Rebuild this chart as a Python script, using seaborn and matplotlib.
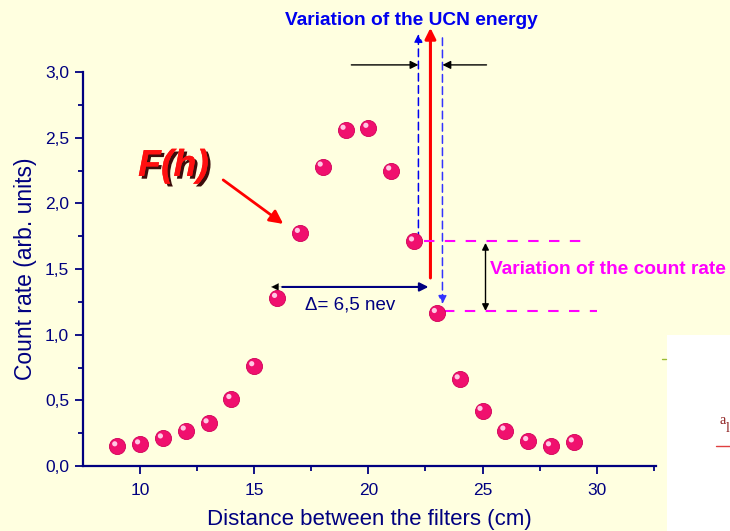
import matplotlib
matplotlib.use("Agg")
import matplotlib.pyplot as plt
import matplotlib.transforms as mtransforms
import matplotlib.patheffects as pe
import seaborn as sns
import pandas as pd

# ---- data ----
distance = [9, 10, 11, 12, 13, 14, 15, 16, 17, 18, 19, 20, 21, 22, 23, 24, 25, 26, 27, 28, 29]
count_rate = [0.15, 0.165, 0.21, 0.27, 0.325, 0.51, 0.76, 1.28, 1.775, 2.28, 2.56, 2.575,
              2.25, 1.71, 1.165, 0.66, 0.42, 0.27, 0.19, 0.15, 0.18]
x_ticks = [10, 15, 20, 25, 30]
y_ticks = [0.0, 0.5, 1.0, 1.5, 2.0, 2.5, 3.0]
y_tick_labels = ["0,0", "0,5", "1,0", "1,5", "2,0", "2,5", "3,0"]

df = pd.DataFrame({"distance": distance, "count": count_rate})

sns.set_style("ticks")
plt.rcParams['font.family'] = ['Liberation Sans', 'DejaVu Sans']

BG = "#FFFFE0"
NAVY = "#000080"

fig = plt.figure(figsize=(7.3, 5.31), dpi=100, facecolor=BG)
ax = fig.add_axes([83/730, 65/531, (656-83)/730, (466-72)/531])
ax.set_facecolor(BG)

sns.scatterplot(data=df, x="distance", y="count", ax=ax, s=135, color="#F0106E",
                edgecolor="#D00058", linewidth=0.6, zorder=5, clip_on=False, legend=False)
# highlight on each sphere
off = mtransforms.ScaledTranslation(-2.5/100, 2.5/100, fig.dpi_scale_trans)
ax.scatter(df["distance"], df["count"], s=14, color="#FFC8E4", edgecolor="none",
           transform=ax.transData + off, zorder=6, clip_on=False)

ax.set_xlim(7.5, 32.6)
ax.set_ylim(0, 3.0)
ax.set_xticks(x_ticks)
ax.set_xticks([12.5, 17.5, 22.5, 27.5, 32.5], minor=True)
ax.set_yticks(y_ticks)
ax.set_yticklabels(y_tick_labels)
ax.set_yticks([0.25, 0.75, 1.25, 1.75, 2.25, 2.75], minor=True)

for s in ["top", "right"]:
    ax.spines[s].set_visible(False)
for s in ["left", "bottom"]:
    ax.spines[s].set_color(NAVY)
    ax.spines[s].set_linewidth(1.6)
ax.tick_params(axis="both", which="major", direction="out", length=6, width=1.3,
               colors=NAVY, labelsize=12.5, labelcolor=NAVY)
ax.tick_params(axis="both", which="minor", direction="out", length=3.5, width=1.3, colors=NAVY)
ax.tick_params(axis="x", pad=6)
ax.tick_params(axis="y", pad=4)

ax.set_xlabel("Distance between the filters (cm)", fontsize=16, color=NAVY, labelpad=8)
ax.set_ylabel("Count rate (arb. units)", fontsize=16.5, color=NAVY, labelpad=6)

def px(x, y):
    return (10 + (x - 141) / 22.8, (466 - y) / 131.3)

# title annotation
ax.text(*px(412, 21), "Variation of the UCN energy", color="#0000EE", fontsize=13.8,
        fontweight="bold", ha="center", va="center", clip_on=False)

# red vertical arrow
ax.annotate("", xy=px(431, 28), xytext=px(431, 278), annotation_clip=False,
            arrowprops=dict(arrowstyle="-|>", color="red", lw=2.2, mutation_scale=16, shrinkA=0, shrinkB=0))
# blue dashed arrows
ax.annotate("", xy=px(419, 34), xytext=px(419, 240), annotation_clip=False,
            arrowprops=dict(arrowstyle="-|>", color="#0000EE", lw=1.1, ls=(0, (5, 3)),
                            mutation_scale=12, shrinkA=0, shrinkB=0))
ax.annotate("", xy=px(443, 304), xytext=px(443, 38), annotation_clip=False,
            arrowprops=dict(arrowstyle="-|>", color="#3333FF", lw=1.1, ls=(0, (5, 3)),
                            mutation_scale=12, shrinkA=0, shrinkB=0))
# black horizontal arrows
ax.annotate("", xy=px(419, 65), xytext=px(352, 65), annotation_clip=False,
            arrowprops=dict(arrowstyle="-|>", color="black", lw=1, mutation_scale=12, shrinkA=0, shrinkB=0))
ax.annotate("", xy=px(443, 65), xytext=px(487, 65), annotation_clip=False,
            arrowprops=dict(arrowstyle="-|>", color="black", lw=1, mutation_scale=12, shrinkA=0, shrinkB=0))

# magenta dashed lines
for (x0, x1, y) in [(425, 585, 241), (445, 597, 311)]:
    a, b = px(x0, y), px(x1, y)
    ax.plot([a[0], b[0]], [a[1], b[1]], color="#FF00FF", lw=1.5, ls=(0, (5, 5)),
            clip_on=False, zorder=3)
# black double arrow
ax.annotate("", xy=px(486, 243), xytext=px(486, 311), annotation_clip=False,
            arrowprops=dict(arrowstyle="<|-|>", color="black", lw=1, mutation_scale=10, shrinkA=0, shrinkB=0))
ax.text(*px(490, 270), "Variation of the count rate", color="#FF00FF", fontsize=13.8,
        fontweight="bold", ha="left", va="center", clip_on=False)

# navy arrow (delta)
ax.annotate("", xy=px(429, 287), xytext=px(283, 287), annotation_clip=False,
            arrowprops=dict(arrowstyle="-|>", color=NAVY, lw=1.5, mutation_scale=13, shrinkA=0, shrinkB=0))
ax.annotate("", xy=px(272, 287), xytext=px(285, 287), annotation_clip=False,
            arrowprops=dict(arrowstyle="-|>", color="black", lw=0.1, mutation_scale=13, shrinkA=0, shrinkB=0))
ax.text(*px(306, 305), "\u0394= 6,5 nev", color=NAVY, fontsize=13.5, ha="left", va="center",
        clip_on=False)

# F(h) label
ax.text(*px(139, 166), "F(h)", color="#FF1010", fontsize=27, fontweight="bold", fontstyle="italic",
        ha="left", va="center", clip_on=False,
        path_effects=[pe.withSimplePatchShadow(offset=(2, -2), shadow_rgbFace="#300000", alpha=0.95),
                      pe.Normal()])
ax.annotate("", xy=px(284, 224), xytext=px(224, 180), annotation_clip=False,
            arrowprops=dict(arrowstyle="-|>", color="red", lw=2, mutation_scale=20, shrinkA=0, shrinkB=0))

# white box fragment at bottom right
fig.patches.append(plt.Rectangle((667/730, 0), 63/730, (531-335)/531, transform=fig.transFigure,
                                 facecolor="white", edgecolor="none", zorder=0))
fig.add_artist(plt.Line2D([662/730, 666/730], [1-359/531, 1-359/531], color="#99BB33", lw=1))
fig.text(719/730, 1-421/531, "a", color="#8B1A1A", fontsize=10, family="Liberation Serif",
         ha="left", va="center")
fig.text(726/730, 1-428/531, "l", color="#8B1A1A", fontsize=10, family="Liberation Serif",
         ha="left", va="center")
fig.add_artist(plt.Line2D([716/730, 730/730], [1-446/531, 1-446/531], color="#E04040", lw=1))

fig.savefig("out.png", dpi=100, facecolor=BG)
